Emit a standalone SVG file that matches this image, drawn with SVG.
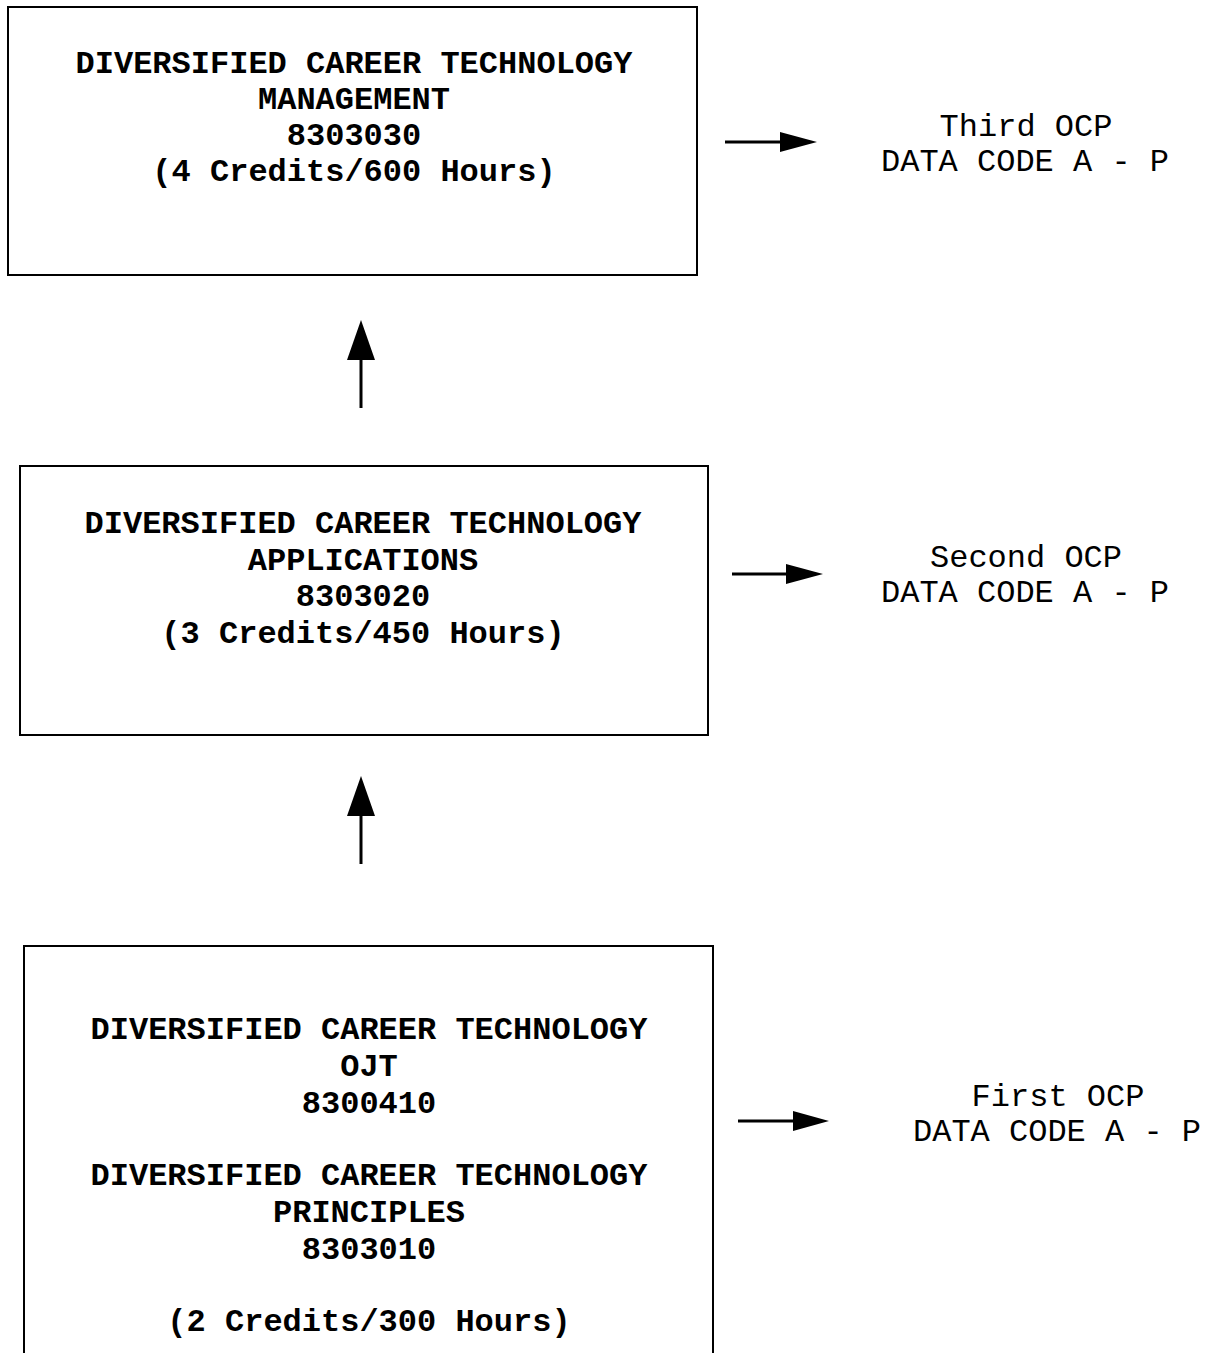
<svg xmlns="http://www.w3.org/2000/svg" width="1209" height="1353" viewBox="0 0 1209 1353">
<style>
.box{fill:#fff;stroke:#000;stroke-width:2}
.t{font-family:"Liberation Mono","Courier New",monospace;font-size:32px;font-weight:bold;text-anchor:middle;fill:#000}
.l{font-family:"Liberation Mono","Courier New",monospace;font-size:32px;text-anchor:middle;fill:#000}
.c{stroke:#000;stroke-width:3;fill:none}
.h{fill:#000}
</style>
<rect width="1209" height="1353" fill="#fff"/>
<g id="node-management">
<rect class="box" x="8" y="7" width="689" height="268"/>
<text class="t" x="354" y="73">DIVERSIFIED CAREER TECHNOLOGY</text>
<text class="t" x="354" y="109">MANAGEMENT</text>
<text class="t" x="354" y="145">8303030</text>
<text class="t" x="354" y="181">(4 Credits/600 Hours)</text>
</g>
<g id="node-applications">
<rect class="box" x="20" y="466" width="688" height="269"/>
<text class="t" x="363" y="533">DIVERSIFIED CAREER TECHNOLOGY</text>
<text class="t" x="363" y="570">APPLICATIONS</text>
<text class="t" x="363" y="606">8303020</text>
<text class="t" x="363" y="643">(3 Credits/450 Hours)</text>
</g>
<g id="node-principles">
<path class="box" d="M24 1360 V946 H713 V1360"/>
<text class="t" x="369" y="1039">DIVERSIFIED CAREER TECHNOLOGY</text>
<text class="t" x="369" y="1076">OJT</text>
<text class="t" x="369" y="1113">8300410</text>
<text class="t" x="369" y="1185">DIVERSIFIED CAREER TECHNOLOGY</text>
<text class="t" x="369" y="1222">PRINCIPLES</text>
<text class="t" x="369" y="1259">8303010</text>
<text class="t" x="369" y="1331">(2 Credits/300 Hours)</text>
</g>
<g id="label-third">
<text class="l" x="1026" y="136">Third OCP</text>
<text class="l" x="1025" y="171">DATA CODE A - P</text>
</g>
<g id="label-second">
<text class="l" x="1026" y="567">Second OCP</text>
<text class="l" x="1025" y="602">DATA CODE A - P</text>
</g>
<g id="label-first">
<text class="l" x="1058" y="1106">First OCP</text>
<text class="l" x="1057" y="1141">DATA CODE A - P</text>
</g>
<g id="connectors">
<line class="c" x1="725" y1="142" x2="782" y2="142"/>
<polygon class="h" points="780,132 817,142 780,152"/>
<line class="c" x1="732" y1="574" x2="788" y2="574"/>
<polygon class="h" points="786,564 823,574 786,584"/>
<line class="c" x1="738" y1="1121" x2="795" y2="1121"/>
<polygon class="h" points="793,1111 829,1121 793,1131"/>
<line class="c" x1="361" y1="408" x2="361" y2="358"/>
<polygon class="h" points="347,360 361,320 375,360"/>
<line class="c" x1="361" y1="864" x2="361" y2="814"/>
<polygon class="h" points="347,816 361,776 375,816"/>
</g>
</svg>
